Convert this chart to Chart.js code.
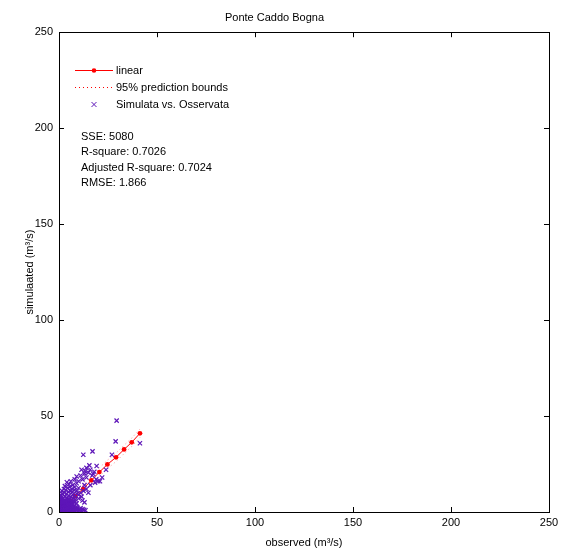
<!DOCTYPE html>
<html>
<head>
<meta charset="utf-8">
<script src="https://cdn.jsdelivr.net/npm/chart.js@4.4.1/dist/chart.umd.min.js"></script>
<style>
  body { margin: 0; background: #fff; }
  canvas { display: block; }
</style>
</head>
<body>
<canvas id="fitChart" width="570" height="551"></canvas>
<script>
// observed vs simulated discharge (m3/s)
const obsX = [0.3,1,2,3,4,5,6,7,8,9,10,11,12,
  0.5,1.5,2.5,3.5,4.5,5.5,6.5,7.5,8.5,
  0.2,1,2,3,4,5,6,7,8,9,
  0.5,1.5,2.5,3.5,4.5,5.5,6.5,7.5,8.5,10,
  0.3,1.2,2,3,4,5,6,7,8,9,
  0.8,1.8,2.8,3.8,4.8,5.8,6.8,7.8,9,
  1.5,2.5,3.5,4.5,5.5,6.5,8,10,11,
  3,5,7,9,10,11.5,12,13,12.5,13,
  4,6,8,9,10,11,12,14,13,11.5,14,15,16,17,18,19,20,18.4,20.9,17.5,
  13.3,15.5,19.2,12.4,17.1,27,29.4,28.9,41.3,22,16,14,15,24,
  0.1,0.6,1.1,1.6,2.1,2.6,3.1,3.6,4.1,0.4,0.9,1.4,1.9,2.4,2.9,3.4,
  0.2,0.7,1.3,1.8,2.3,2.8,3.3,0.1,0.6,1.1,1.7,2.2,2.7,0.3,0.9,1.4,
  4.6,5.2,5.8,6.3,6.9,7.4,4.2,4.8,5.3,6.1,6.7,3.9,4.4,5.1,0.4,1,
  9.5,10.5,11.5,12.8,13.5,7.2,8.1,9.3,6.2,7.6,
  0.2,0.5,0.9,1.2,1.6,1.9,2.3,2.7,3.0,3.4,3.8,4.3,
  0.1,0.4,0.8,1.1,1.5,1.8,2.2,2.6,2.9,3.3,3.7,4.1,4.5,
  0.3,0.6,1.0,1.3,1.7,2.0,2.4,2.8,3.2,3.6,4.0,4.4,5.0,
  0.2,0.5,0.9,1.4,1.8,2.1,2.5,3.1,3.5,3.9,4.7,5.4,
  5.6,6.0,6.4,6.8,7.3,7.8,8.3,8.8,9.2,5.9,6.6,7.1];
const simY = [0.2,0.5,0.3,0.8,0.4,1,0.6,1.2,0.8,1.5,1,2,1.5,
  1.5,2,1.6,2.2,2.5,2,2.8,3,2.5,
  3,3.5,3.2,4,3.6,4.2,4.5,4,5,4.5,
  5,5.5,5,6,5.5,6.5,6,7,6.5,7,
  6.8,7.5,7,8,7.5,8.5,8,9,8.5,9.5,
  9,9.5,10,9.5,10.5,11,10.5,11.5,11,
  11,12,11.5,12.5,13,12,13,12.5,10,
  13.5,14.5,14,15,9,8,6,5,11,14,
  15.5,16,17,18.5,16,19,17,18,20,22,23,20.5,22,19,21,17,16,15.3,16,19.8,
  21.2,24.3,24,29.8,31.6,29.8,47.6,36.8,35.8,18,14,12,10,22,
  0.1,0.3,0.2,0.4,0.1,0.5,0.3,0.2,0.6,1.1,1.2,0.9,1.3,1,1.4,1.1,
  2.3,2.6,2.4,2.8,2.5,2.9,2.6,4.1,4.3,3.9,4.6,4.2,4.8,6,6.2,6.4,
  1.8,1.2,1.6,1.1,1.7,1.4,3.2,3.4,3.1,3.3,3.8,5.2,5,5.6,8.2,8.4,
  0.5,0.8,0.6,1.2,0.9,2.2,2,2.4,5.4,5.8,
  0.7,1.0,0.6,0.9,0.8,1.1,0.7,1.0,0.8,0.9,1.2,0.7,
  1.9,2.2,1.8,2.1,2.0,2.3,1.7,2.1,2.4,1.9,2.2,2.6,2.3,
  3.5,3.7,3.3,3.6,3.4,3.8,3.5,3.7,3.4,4.0,3.9,4.4,4.1,
  5.1,4.8,5.3,5.0,5.4,4.9,5.2,5.5,5.1,5.7,6.0,6.6,
  0.3,0.8,1.5,0.6,1.1,0.4,1.8,0.9,1.3,3.6,4.2,2.7];

// linear fit and 95% prediction bounds
const fitX = [0,4.1,8.2,12.4,16.5,20.6,24.7,29.1,33.2,37.1,41.3];
const fitY = [0.2,4.3,8.3,12.1,16.5,20.8,24.8,28.5,32.6,36.3,41.0];
const upperY = [2.4,6.5,10.5,14.3,18.7,23.0,27.0,30.7,34.8,38.5,43.2];
const lowerY = [-2.0,2.1,6.1,9.9,14.3,18.6,22.6,26.3,30.4,34.1,38.8];

const tickValues = [0, 50, 100, 150, 200, 250];
const statLines = ['SSE: 5080', 'R-square: 0.7026', 'Adjusted R-square: 0.7024', 'RMSE: 1.866'];

const RED = '#ff0000';
const PURPLE = '#5e16b8';
const FONT = '"Liberation Sans", Arial, sans-serif';

function pairs(xs, ys) {
  return xs.map((x, i) => ({ x: x, y: ys[i] }));
}

// box with inward ticks, legend and stats text
const matlabFrame = {
  id: 'matlabFrame',
  afterDraw(chart) {
    const ctx = chart.ctx;
    const a = chart.chartArea;
    const xs = chart.scales.x, ys = chart.scales.y;
    ctx.save();
    ctx.strokeStyle = '#000';
    ctx.lineWidth = 1;
    ctx.strokeRect(Math.round(a.left) + 0.5, Math.round(a.top) + 0.5,
      Math.round(a.right - a.left), Math.round(a.bottom - a.top));
    ctx.beginPath();
    tickValues.forEach(v => {
      const px = Math.round(xs.getPixelForValue(v)) + 0.5;
      ctx.moveTo(px, a.bottom); ctx.lineTo(px, a.bottom - 5);
      ctx.moveTo(px, a.top); ctx.lineTo(px, a.top + 5);
      const py = Math.round(ys.getPixelForValue(v)) + 0.5;
      ctx.moveTo(a.left, py); ctx.lineTo(a.left + 5, py);
      ctx.moveTo(a.right, py); ctx.lineTo(a.right - 5, py);
    });
    ctx.stroke();

    // legend
    const lx0 = a.left + 16, lx1 = a.left + 54, lmid = a.left + 35, tx = a.left + 57;
    ctx.font = '11px ' + FONT;
    ctx.textBaseline = 'middle';
    ctx.textAlign = 'left';

    ctx.strokeStyle = RED;
    ctx.beginPath(); ctx.moveTo(lx0, 70.5); ctx.lineTo(lx1, 70.5); ctx.stroke();
    ctx.fillStyle = RED;
    ctx.beginPath(); ctx.arc(lmid, 70.5, 2.3, 0, Math.PI * 2); ctx.fill();
    ctx.fillStyle = '#000';
    ctx.fillText('linear', tx, 70.5);

    ctx.fillStyle = RED;
    for (let x = lx0; x < lx1; x += 4) ctx.fillRect(Math.round(x), 87, 1, 1);
    ctx.fillStyle = '#000';
    ctx.fillText('95% prediction bounds', tx, 87.5);

    ctx.strokeStyle = PURPLE;
    ctx.beginPath();
    ctx.moveTo(lmid - 2.5, 102); ctx.lineTo(lmid + 2.5, 107);
    ctx.moveTo(lmid + 2.5, 102); ctx.lineTo(lmid - 2.5, 107);
    ctx.stroke();
    ctx.fillText('Simulata vs. Osservata', tx, 104.5);

    statLines.forEach((s, i) => {
      ctx.fillText(s, a.left + 22, 136.5 + i * 15.5);
    });
    ctx.restore();
  }
};

const ctx = document.getElementById('fitChart').getContext('2d');
new Chart(ctx, {
  type: 'scatter',
  data: {
    datasets: [{
      label: 'Simulata vs. Osservata',
      data: pairs(obsX, simY),
      pointStyle: 'crossRot',
      radius: 3,
      borderColor: PURPLE,
      backgroundColor: PURPLE,
      borderWidth: 1.2
    }, {
      label: '95% prediction bounds',
      type: 'line',
      data: pairs(fitX, upperY),
      borderColor: 'rgba(255,0,0,0.45)',
      borderWidth: 1,
      borderDash: [1, 3],
      pointRadius: 0,
      fill: false
    }, {
      label: '95% prediction bounds (lower)',
      type: 'line',
      data: pairs(fitX, lowerY),
      borderColor: 'rgba(255,0,0,0.45)',
      borderWidth: 1,
      borderDash: [1, 3],
      pointRadius: 0,
      fill: false
    }, {
      label: 'linear',
      type: 'line',
      data: pairs(fitX, fitY),
      borderColor: RED,
      backgroundColor: RED,
      borderWidth: 1,
      pointRadius: 2.4,
      pointBorderWidth: 0,
      fill: false
    }]
  },
  options: {
    responsive: false,
    animation: false,
    layout: { padding: { left: 0, right: 21, top: 0, bottom: 0 } },
    plugins: {
      legend: { display: false },
      tooltip: { enabled: false },
      title: {
        display: true,
        text: 'Ponte Caddo Bogna',
        color: '#000',
        font: { family: FONT, size: 11, weight: 'normal' },
        padding: { top: 11, bottom: 8 }
      }
    },
    scales: {
      x: {
        type: 'linear',
        min: 0, max: 250,
        afterFit(scale) { scale.height = 39; },
        afterBuildTicks(scale) { scale.ticks = tickValues.map(v => ({ value: v })); },
        grid: { display: false, drawTicks: false },
        border: { display: false },
        ticks: { color: '#000', padding: 4, maxRotation: 0, font: { family: FONT, size: 11 } },
        title: {
          display: true,
          text: 'observed (m³/s)',
          color: '#000',
          font: { family: FONT, size: 11 },
          padding: { top: 0, bottom: 1 }
        }
      },
      y: {
        type: 'linear',
        min: 0, max: 250,
        afterFit(scale) { scale.width = 59; },
        afterBuildTicks(scale) { scale.ticks = tickValues.map(v => ({ value: v })); },
        grid: { display: false, drawTicks: false },
        border: { display: false },
        ticks: { color: '#000', padding: 6, font: { family: FONT, size: 11 } },
        title: {
          display: true,
          text: 'simulaated (m³/s)',
          color: '#000',
          font: { family: FONT, size: 11 },
          padding: { top: 23, bottom: 0 }
        }
      }
    }
  },
  plugins: [matlabFrame]
});
</script>
</body>
</html>
